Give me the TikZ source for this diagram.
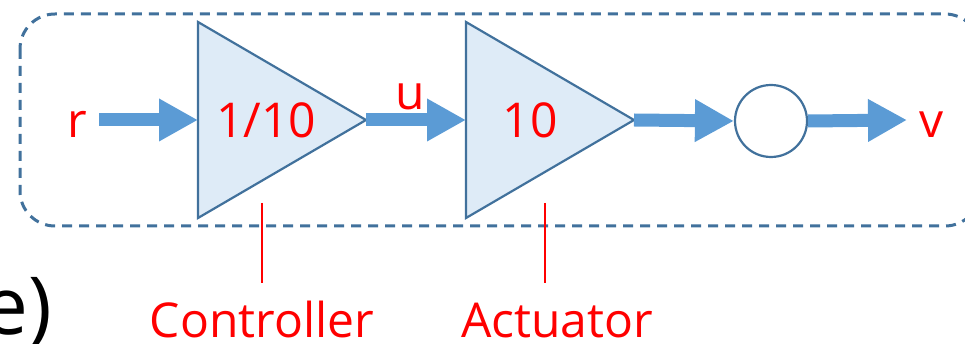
\documentclass[tikz,border=0pt]{standalone}
\usepackage{fontspec}
\setmainfont{Open Sans}
\usetikzlibrary{arrows.meta}
\definecolor{edgeblue}{HTML}{41719C}
\definecolor{fillblue}{HTML}{DEEBF7}
\definecolor{arrblue}{HTML}{5B9BD5}
\definecolor{txtred}{HTML}{FF0000}
\tikzset{
  tri/.style={draw=edgeblue, fill=fillblue, line width=2.2pt, line join=miter},
  flow/.style={draw=arrblue, line width=13pt, -{Triangle[length=39pt,width=40pt]}},
  lbl/.style={text=txtred, font=\fontsize{48}{48}\selectfont, inner sep=0pt},
  pointer/.style={draw=txtred, line width=2pt},
  groupbox/.style={draw=edgeblue, line width=3pt, dash pattern=on 10pt off 7pt, rounded corners=35pt},
}
\begin{document}
\begin{tikzpicture}[x=1pt,y=-1pt]
\useasboundingbox (0,0) rectangle (965,344);
\clip (0,0) rectangle (965,344);
% group box
\draw[groupbox] (20,14) rectangle (980,226);
% triangles
\draw[tri] (198,22) -- (366,120) -- (198,218) -- cycle;
\draw[tri] (466,22) -- (634,120) -- (466,218) -- cycle;
\coordinate (t1in) at (198,120);
\coordinate (t1out) at (366,120);
\coordinate (t2in) at (466,120);
\coordinate (t2out) at (634,120);
\node[lbl, anchor=base] (g1) at (266,138) {1/10};
\node[lbl, anchor=base] (g2) at (530,138) {10};
% sum circle
\node[circle, draw=edgeblue, line width=2.2pt, fill=white, minimum size=72pt, inner sep=0pt] (c) at (771,121) {};
% labels
\node[lbl, anchor=base] (r) at (77,138) {r};
\node[lbl, anchor=base] (u) at (410,110) {u};
\node[lbl, anchor=base] (v) at (932,138) {v};
\coordinate (rstart) at (99,120);
\coordinate (vend) at (907,120);
% arrows
\draw[flow] (rstart) -- (t1in);
\draw[flow] (t1out) -- (t2in);
\draw[flow] (t2out) -- (c.west);
\draw[flow] (c.east) -- (vend);
% pointers
\coordinate (p1a) at (262,203);
\coordinate (p2a) at (545,203);
\node[lbl, anchor=base] (ctrl) at (262,337) {Controller};
\node[lbl, anchor=base] (act) at (557,337) {Actuator};
\draw[pointer] (p1a) -- (262,283);
\draw[pointer] (p2a) -- (545,283);
% clipped text at left
\node[anchor=base east, inner sep=0pt, font=\fontsize{80}{80}\selectfont] (e) at (52,334) {e)};
\end{tikzpicture}
\end{document}
